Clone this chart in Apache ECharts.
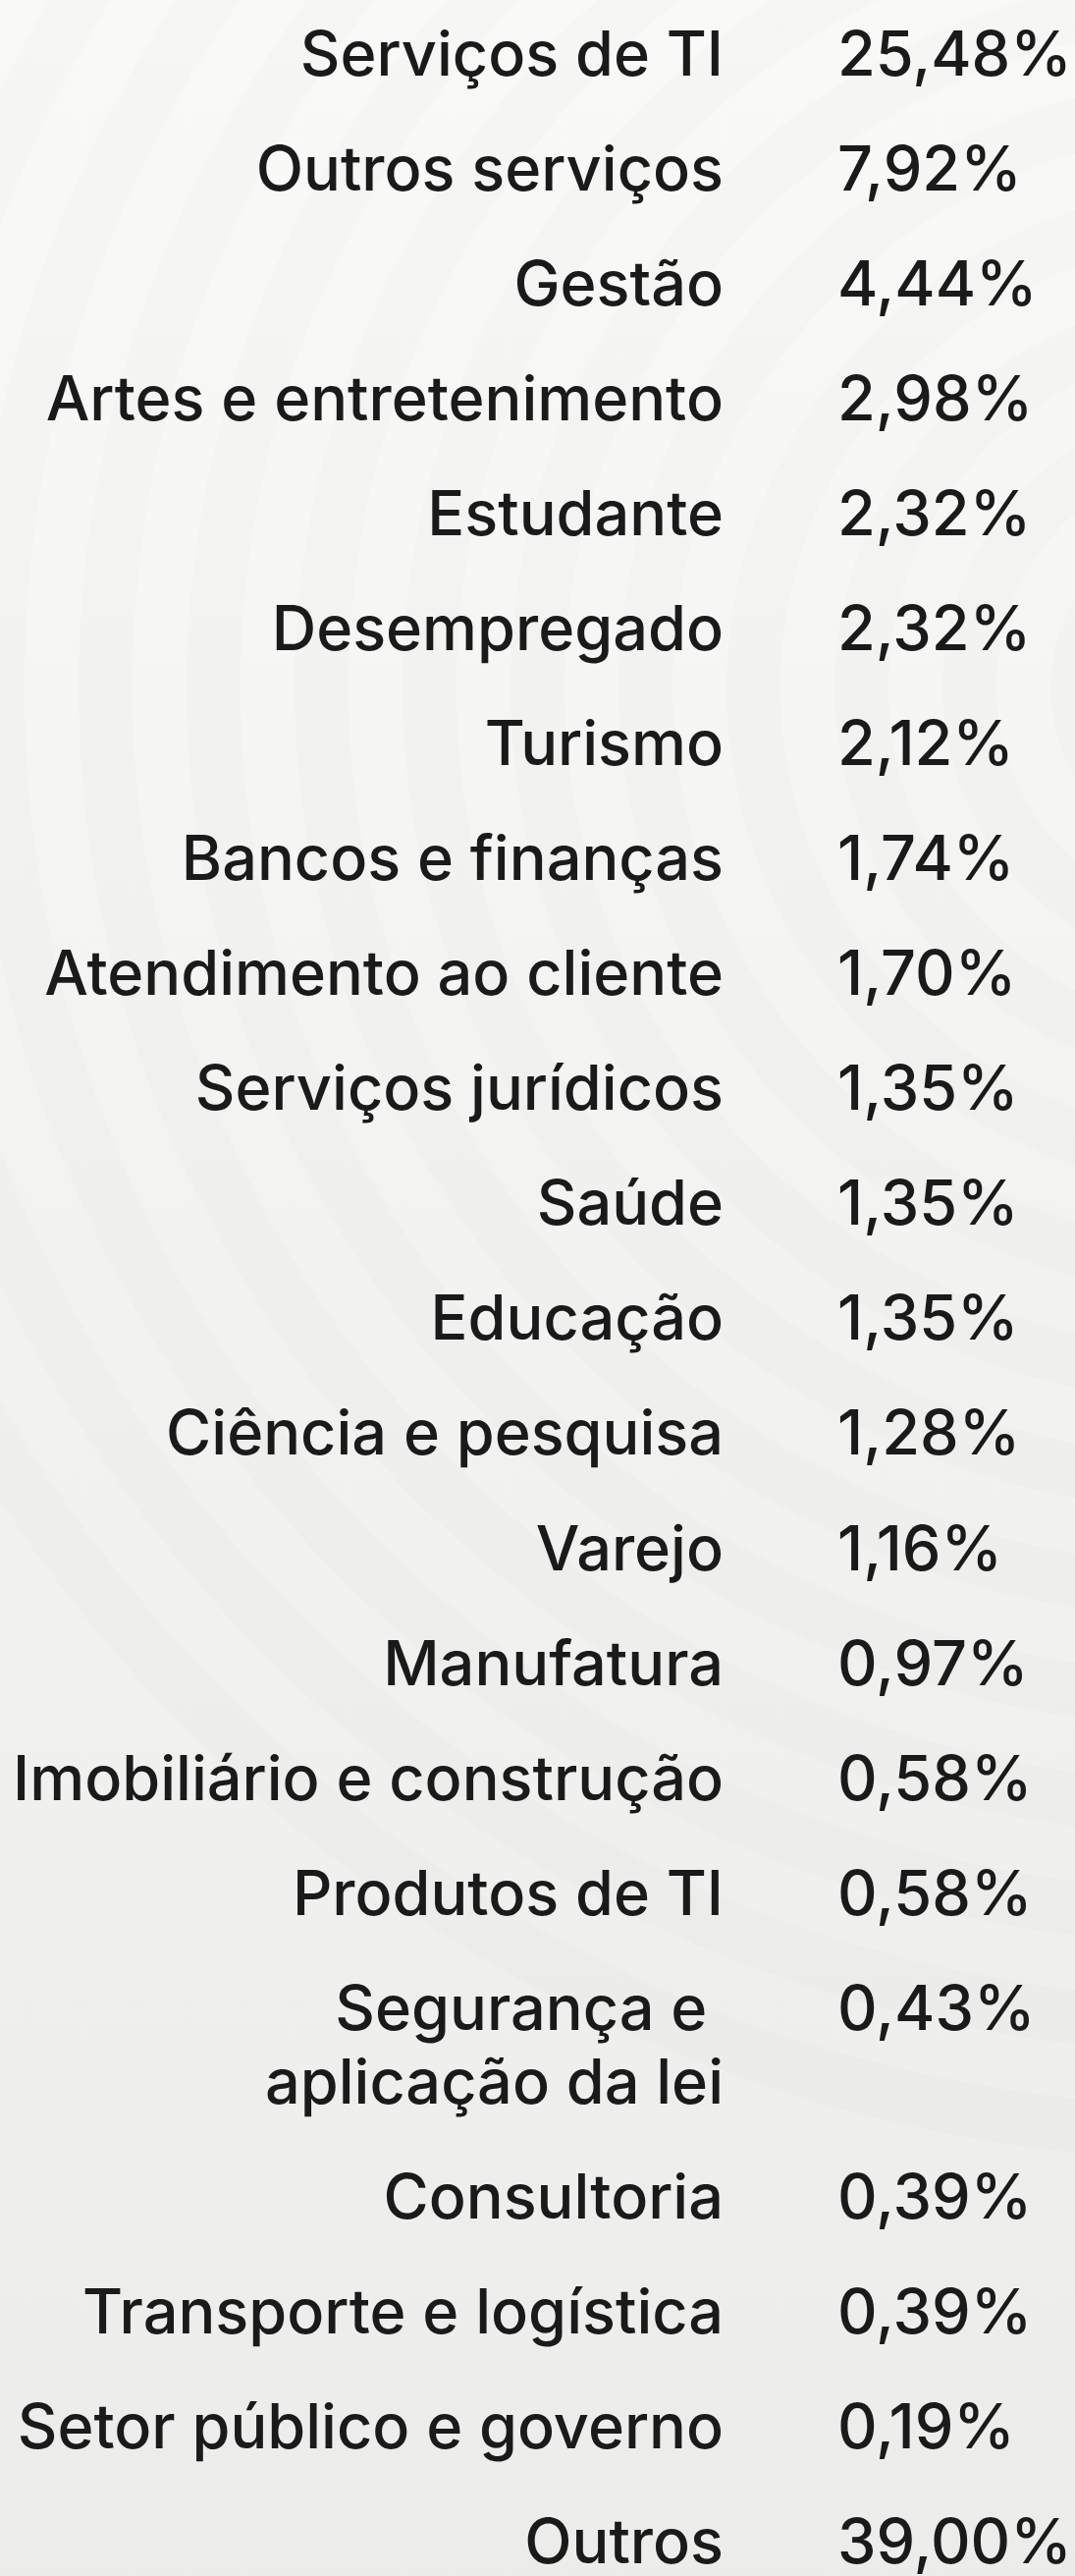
<!DOCTYPE html>
<html>
<head>
<meta charset="utf-8">
<script src="https://cdn.jsdelivr.net/npm/echarts@6/dist/echarts.min.js"></script>
<style>
  html, body { margin: 0; padding: 0; }
  #chart { width: 1095px; height: 2623px; }
</style>
</head>
<body>
<div id="chart"></div>
<script>
// categorias e percentuais
const categorias = [
  'Serviços de TI', 'Outros serviços', 'Gestão', 'Artes e entretenimento',
  'Estudante', 'Desempregado', 'Turismo', 'Bancos e finanças',
  'Atendimento ao cliente', 'Serviços jurídicos', 'Saúde', 'Educação',
  'Ciência e pesquisa', 'Varejo', 'Manufatura', 'Imobiliário e construção',
  'Produtos de TI', 'Segurança e \naplicação da lei', 'Consultoria',
  'Transporte e logística', 'Setor público e governo', 'Outros'
];
const percentuais = [
  25.48, 7.92, 4.44, 2.98, 2.32, 2.32, 2.12, 1.74, 1.70, 1.35, 1.35,
  1.35, 1.28, 1.16, 0.97, 0.58, 0.58, 0.43, 0.39, 0.39, 0.19, 39.00
];

const LINHA = 75;          // altura de linha extra (px)
const PASSO = 117;         // distancia entre linhas da tabela (px)
const FONTE = 63;
const PESO = 500;
const COR = '#1a1a1a';

// posicao de cada linha em "unidades de linha" (linhas quebradas empurram o resto)
let extra = 0;
const posY = categorias.map((c, i) => {
  const y = i + extra * LINHA / PASSO;
  extra += c.split('\n').length - 1;
  return y;
});

const fmt = v => v.toFixed(2).replace('.', ',') + '%';

// fundo: degrade + aneis concentricos claros
const fundo = [{
  type: 'rect', z: -100, silent: true,
  shape: { x: 0, y: 0, width: 1095, height: 2623 },
  style: {
    fill: new echarts.graphic.LinearGradient(0, 0, 0, 1, [
      { offset: 0, color: '#f9f9f8' },
      { offset: 1, color: '#ececeb' }
    ])
  }
}];
for (let r = 1500; r > 60; r -= 110) {
  fundo.push({
    type: 'ring', z: -99, silent: true,
    shape: { cx: 1250, cy: 700, r: r, r0: r - 55 },
    style: { fill: 'rgba(0,0,0,0.012)' }
  });
}

const chart = echarts.init(document.getElementById('chart'));
chart.setOption({
  animation: false,
  graphic: fundo,
  grid: { left: 795, right: 0, top: 58, bottom: 32 },
  xAxis: { type: 'value', min: 0, max: 1, show: false },
  yAxis: { type: 'value', inverse: true, min: 0, max: posY[posY.length - 1], show: false },
  series: [
    {
      type: 'scatter',
      symbolSize: 0,
      itemStyle: { opacity: 1 },
      data: posY.map((y, i) => ({
        value: [0, y],
        label: { offset: [0, (categorias[i].split('\n').length - 1) * LINHA / 2] }
      })),
      label: {
        show: true,
        position: 'left',
        distance: 58,
        formatter: p => categorias[p.dataIndex],
        fontFamily: 'Inter',
        fontWeight: PESO,
        fontSize: FONTE,
        lineHeight: LINHA,
        color: COR
      }
    },
    {
      type: 'scatter',
      symbolSize: 0,
      itemStyle: { opacity: 1 },
      data: posY.map(y => [0, y]),
      label: {
        show: true,
        position: 'right',
        distance: 58,
        formatter: p => fmt(percentuais[p.dataIndex]),
        fontFamily: 'Inter',
        fontWeight: PESO,
        fontSize: FONTE,
        color: COR
      }
    }
  ]
});
</script>
</body>
</html>
